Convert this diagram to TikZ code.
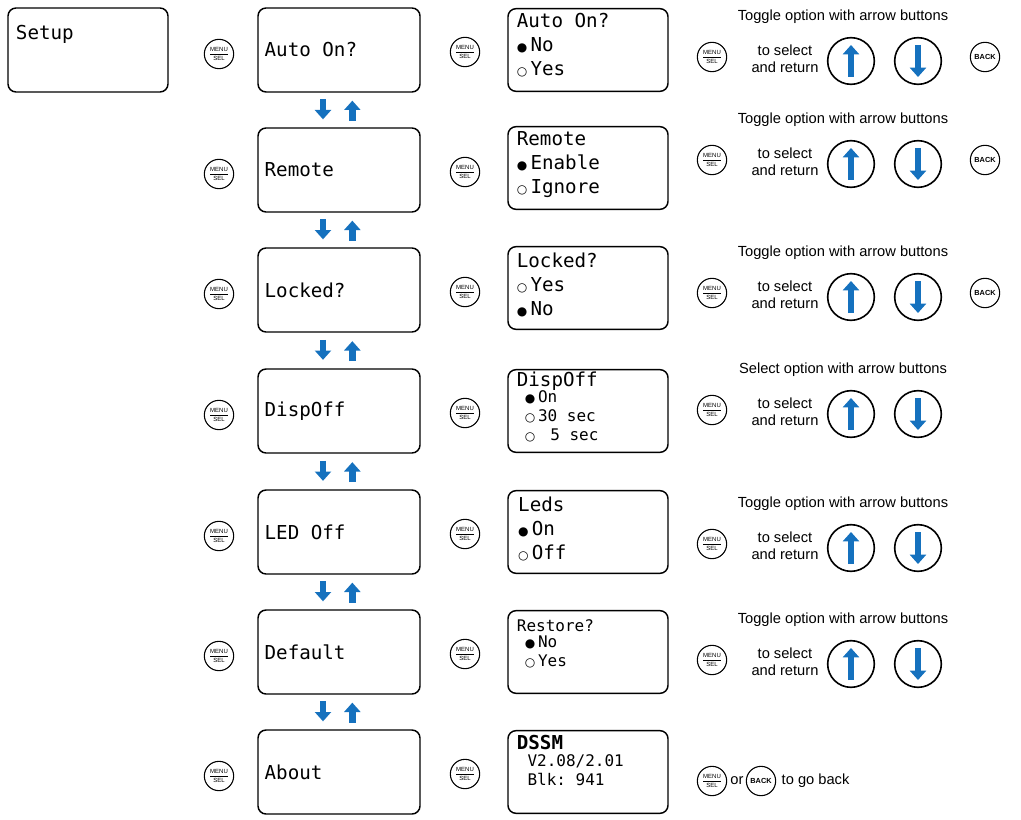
\documentclass[tikz,border=0pt]{standalone}
\usepackage{fontspec}
\setmainfont{Liberation Sans}
\setmonofont{DejaVu Sans Mono}
\newfontfamily\symf{DejaVu Sans}
\usetikzlibrary{arrows.meta}
\usetikzlibrary{calc}
\definecolor{btnblue}{RGB}{21,113,190}
\newcommand{\on}{{\symf\small ●}}
\newcommand{\off}{{\symf\small ○}}

\begin{document}
\begin{tikzpicture}[x=0.75pt, y=-0.75pt]
        % ================= styles =================
        \tikzset{
            lcd/.style={draw=black, line width=1.1pt, rounded corners=6pt, minimum width=121.5pt, minimum height=63pt, inner sep=0pt},
            optlcd/.style={draw=black, line width=1.1pt, rounded corners=6pt, minimum width=120pt, minimum height=62pt, inner sep=0pt},
            lcdtext/.style={font=\ttfamily\Large, anchor=west},
            opttext/.style={font=\ttfamily, anchor=north west, align=left, inner sep=0pt},
            menubtn/.style={circle, draw=black, thick, minimum size=22pt, inner sep=0pt,
                font=\fontsize{4.5}{5}\selectfont, align=center},
            backbtn/.style={circle, draw=black, thick, minimum size=22pt, inner sep=0pt,
                font=\fontsize{5.5}{6}\selectfont\bfseries},
            arrowbtn/.style={circle, draw=black, line width=1.2pt, minimum size=35pt, inner sep=0pt},
            bluearrow/.style={-{Triangle[length=7pt,width=12pt]}, line width=5pt, btnblue},
            hint/.style={font=\fontsize{11}{12.5}\selectfont, align=center}
        }
        \useasboundingbox (0,0) rectangle (1021,820);

        % ================= Setup =================
        \node[lcd, minimum width=120pt] (setup) at (88,50) {};
        \node[lcdtext] at ([xshift=3pt,yshift=12pt]setup.west) {Setup};

        % ================= menu column =================
        \foreach \name/\txt/\y [count=\r] in {auto/Auto On?/50, remote/Remote/170, locked/Locked?/290,
                dispoff/DispOff/411, led/LED Off/532, default/Default/652, about/About/772} {
            \node[lcd] (\name) at (339,\y) {};
            \node[lcdtext] at ([xshift=2pt]\name.west) {\txt};
            \node[menubtn] (m\r) at (219,\y+4) {\underline{MENU}\\SEL};
            \node[menubtn] (n\r) at (465,\y+2) {\underline{MENU}\\SEL};
        }

        % up / down arrows between the menu boxes
        \foreach \a/\b in {auto/remote, remote/locked, locked/dispoff, dispoff/led, led/default, default/about} {
            \coordinate (t\a) at ($(\a.south)!0.5!(\b.north)$);
            \draw[bluearrow] ([xshift=-12pt,yshift=8pt]t\a) -- ([xshift=-12pt,yshift=-7pt]t\a);
            \draw[bluearrow] ([xshift=10pt,yshift=-8pt]t\a) -- ([xshift=10pt,yshift=7pt]t\a);
        }

        % ================= option screens =================
        \node[optlcd] (o1) at (588,50) {};
        \node[opttext, font=\ttfamily\Large] at ([xshift=7pt,yshift=-4pt]o1.north west) {Auto On?\\\on\,No\\\off\,Yes};
        \node[optlcd] (o2) at (588,168) {};
        \node[opttext, font=\ttfamily\Large] at ([xshift=7pt,yshift=-4pt]o2.north west) {Remote\\\on\,Enable\\\off\,Ignore};
        \node[optlcd] (o3) at (588,288) {};
        \node[opttext, font=\ttfamily\Large] at ([xshift=7pt,yshift=-5pt]o3.north west) {Locked?\\\off\,Yes\\\on\,No};
        \node[optlcd] (o4) at (588,411) {};
        \node[opttext, font=\ttfamily\Large] (d4) at ([xshift=7pt,yshift=-2pt]o4.north west) {DispOff};
        \node[opttext, font=\ttfamily\large, anchor=north west] at ([xshift=6pt]d4.south west) {\on\,On\\\off\,30 sec\\\off\,\ \,5 sec};
        \node[optlcd] (o5) at (588,532) {};
        \node[opttext, font=\ttfamily\Large] at ([xshift=8pt,yshift=-5pt]o5.north west) {Leds\\\on\,On\\\off\,Off};
        \node[optlcd] (o6) at (588,652) {};
        \node[opttext, font=\ttfamily\large] (r6) at ([xshift=7pt,yshift=-7pt]o6.north west) {Restore?};
        \node[opttext, font=\ttfamily\large] at ([xshift=6pt,yshift=-3pt]r6.south west) {\on\,No\\\off\,Yes};
        \node[optlcd] (o7) at (588,772) {};
        \node[opttext, font=\ttfamily\Large\bfseries] (d7) at ([xshift=7pt,yshift=-4pt]o7.north west) {DSSM};
        \node[opttext, font=\ttfamily\large] at ([xshift=8pt,yshift=-3pt]d7.south west) {V2.08/2.01\\Blk: 941};

        % ================= right hints =================
        \foreach \y/\title/\back [count=\r] in {17/Toggle option with arrow buttons/1, 120/Toggle option with arrow buttons/1,
                253/Toggle option with arrow buttons/1, 370/Select option with arrow buttons/0,
                504/Toggle option with arrow buttons/0, 620/Toggle option with arrow buttons/0} {
            \node[hint] (h\r) at (843,\y) {\title};
            \node[menubtn] (s\r) at (712,\y+40) {\underline{MENU}\\SEL};
            \node[hint] (sel\r) at (785,\y+42) {to select\\and return};
            \node[arrowbtn] (up\r) at (851,\y+44) {};
            \node[arrowbtn] (dn\r) at (918,\y+44) {};
            \draw[bluearrow] ([yshift=-12pt]up\r.center) -- ([yshift=12pt]up\r.center);
            \draw[bluearrow] ([yshift=12pt]dn\r.center) -- ([yshift=-12pt]dn\r.center);
            \ifnum\back=1 \node[backbtn] (b\r) at (985,\y+40) {BACK}; \fi
        }

        % last row
        \node[menubtn] (s7) at (712,781) {\underline{MENU}\\SEL};
        \node[hint] (or7) at (737,781) {or};
        \node[backbtn] (b7) at (761,781) {BACK};
        \node[hint, anchor=west] at (777,781) {to go back};

    \end{tikzpicture}
\end{document}
